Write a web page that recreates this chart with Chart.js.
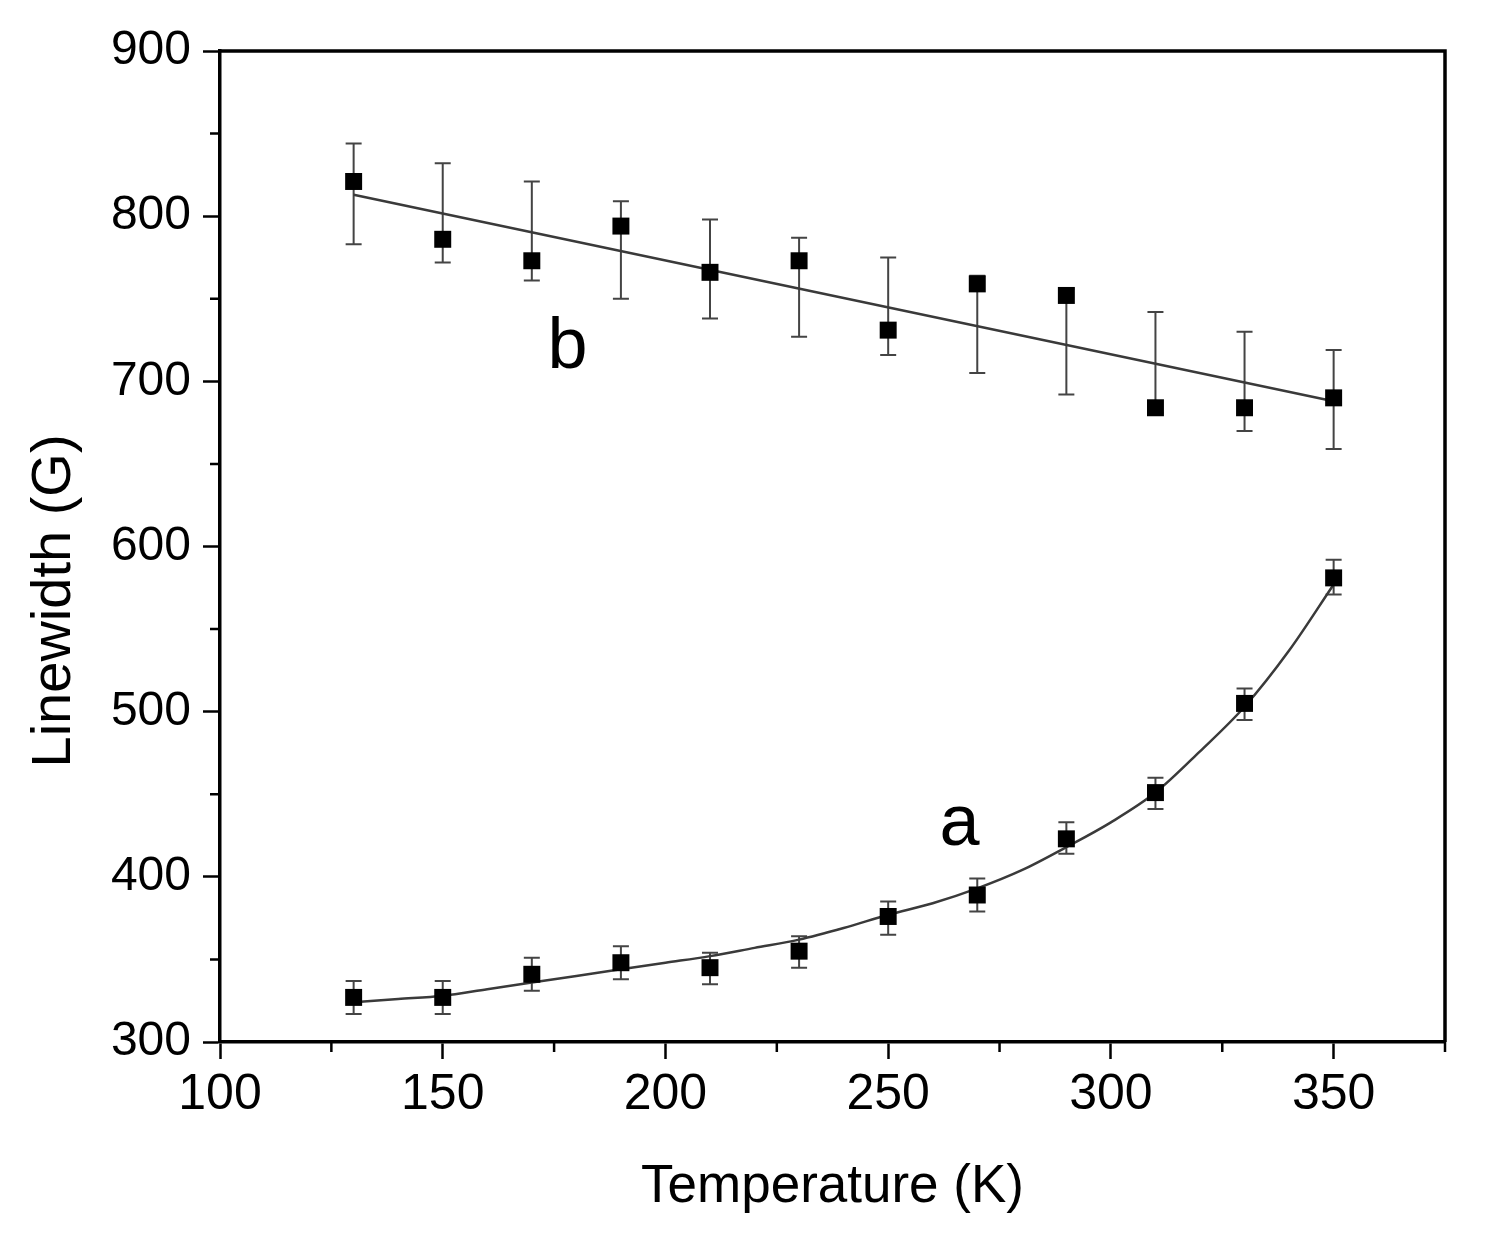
<!DOCTYPE html>
<html>
<head>
<meta charset="utf-8">
<script src="https://cdn.jsdelivr.net/npm/chart.js@4/dist/chart.umd.min.js"></script>
<style>
html,body{margin:0;padding:0;background:#fff;}
#wrap{width:1489px;height:1244px;position:relative;}
</style>
</head>
<body>
<div id="wrap"><canvas id="c" width="1489" height="1244"></canvas></div>
<script>
// ---- data ----
const temps = [130,150,170,190,210,230,250,270,290,310,330,350];

const seriesA = [327,327,341,348,345,355,376,389,423,451,505,581];
const lowA    = [317,317,331,338,335,345,365,379,414,441,495,571];
const highA   = [337,337,351,358,354,364,385,399,433,460,514,592];

const seriesB = [821,786,773,794,766,773,731,759,752,684,684,690];
const lowB    = [783,772,761,750,738,727,716,705,692,681,670,659];
const highB   = [844,832,821,809,798,787,775,764,756,742,730,719];

const fitTempsA = [130,140,150,160,170,180,190,200,210,220,230,240,250,260,270,280,290,300,310,320,330,340,350];
const fitA      = [324,326,328,332,336,340,344,348,352,357,362,369,377,384,393,404,418,433,451,476,503,537,577];

const fitTempsB = [130,350];
const fitB      = [813,688];

const curveLabels = ['a','b'];
const labelTemps  = [266,178];
const labelValues = [419,708];

const xTicksMajor = [100,150,200,250,300,350];
const yTicksMajor = [300,400,500,600,700,800,900];
const xMinor = [125,175,225,275,325,375];
const yMinor = [350,450,550,650,750,850];

const FONT = "'Liberation Sans', Arial, Helvetica, sans-serif";

const pts = (xs, ys) => xs.map((x,i)=>({x:x, y:ys[i]}));

const errorBars = {
  id:'errorBars',
  beforeDatasetsDraw(chart){
    const {ctx, scales:{x,y}} = chart;
    ctx.save();
    ctx.strokeStyle = '#444';
    ctx.lineWidth = 2;
    const cap = 8;
    const draw = (lo, hi) => {
      temps.forEach((t,i)=>{
        const px = x.getPixelForValue(t);
        const p1 = y.getPixelForValue(lo[i]);
        const p2 = y.getPixelForValue(hi[i]);
        ctx.beginPath();
        ctx.moveTo(px,p1); ctx.lineTo(px,p2);
        ctx.moveTo(px-cap,p1); ctx.lineTo(px+cap,p1);
        ctx.moveTo(px-cap,p2); ctx.lineTo(px+cap,p2);
        ctx.stroke();
      });
    };
    draw(lowA, highA);
    draw(lowB, highB);
    ctx.restore();
  }
};

const frame = {
  id:'frame',
  afterDraw(chart){
    const {ctx, chartArea:a, scales:{x,y}} = chart;
    ctx.save();
    ctx.strokeStyle = '#000';
    ctx.lineWidth = 3.5;
    ctx.beginPath();
    ctx.moveTo(a.left, a.top); ctx.lineTo(a.right, a.top); ctx.lineTo(a.right, a.bottom);
    ctx.stroke();
    // minor ticks
    ctx.lineWidth = 2.5;
    ctx.beginPath();
    xMinor.forEach(v=>{
      const px = x.getPixelForValue(v);
      ctx.moveTo(px, a.bottom); ctx.lineTo(px, a.bottom+10);
    });
    yMinor.forEach(v=>{
      const py = y.getPixelForValue(v);
      ctx.moveTo(a.left, py); ctx.lineTo(a.left-10, py);
    });
    ctx.stroke();
    // curve labels
    ctx.fillStyle = '#000';
    ctx.font = "72px " + FONT;
    ctx.textAlign = 'center';
    ctx.textBaseline = 'alphabetic';
    curveLabels.forEach((s,i)=>{
      ctx.fillText(s, x.getPixelForValue(labelTemps[i]), y.getPixelForValue(labelValues[i]));
    });
    ctx.restore();
  }
};

new Chart(document.getElementById('c'), {
  type:'scatter',
  data:{
    datasets:[
      {label:'a', data:pts(temps, seriesA), pointStyle:'rect', pointRadius:12, backgroundColor:'#000', borderColor:'#000', borderWidth:0, showLine:false, order:0},
      {label:'b', data:pts(temps, seriesB), pointStyle:'rect', pointRadius:12, backgroundColor:'#000', borderColor:'#000', borderWidth:0, showLine:false, order:0},
      {label:'fit a', data:pts(fitTempsA, fitA), showLine:true, pointRadius:0, borderColor:'#3a3a3a', borderWidth:2.5, cubicInterpolationMode:'monotone', fill:false, order:1},
      {label:'fit b', data:pts(fitTempsB, fitB), showLine:true, pointRadius:0, borderColor:'#3a3a3a', borderWidth:2.5, fill:false, order:1}
    ]
  },
  options:{
    responsive:false,
    animation:false,
    events:[],
    layout:{padding:{left:0, right:44, top:51, bottom:0}},
    plugins:{legend:{display:false}, tooltip:{enabled:false}},
    scales:{
      x:{
        type:'linear', min:100, max:375,
        afterBuildTicks(s){ s.ticks = xTicksMajor.map(v=>({value:v})); },
        afterFit(s){ s.height = 202; },
        ticks:{color:'#000', font:{family:FONT, size:50}, padding:6, maxRotation:0, autoSkip:false},
        grid:{drawOnChartArea:false, drawTicks:true, tickLength:17, tickWidth:2.5, tickColor:'#000'},
        border:{display:true, color:'#000', width:3.5},
        title:{display:true, text:'Temperature (K)', color:'#000', font:{family:FONT, size:53}, padding:{top:0, bottom:25}}
      },
      y:{
        type:'linear', min:300, max:900,
        afterBuildTicks(s){ s.ticks = yTicksMajor.map(v=>({value:v})); },
        afterFit(s){ s.width = 220; },
        ticks:{color:'#000', font:{family:FONT, size:48}, padding:12, autoSkip:false},
        grid:{drawOnChartArea:false, drawTicks:true, tickLength:17, tickWidth:2.5, tickColor:'#000'},
        border:{display:true, color:'#000', width:3.5},
        title:{display:true, text:'Linewidth (G)\u00a0\u00a0\u00a0\u00a0\u00a0\u00a0\u00a0', color:'#000', font:{family:FONT, size:56}, padding:{top:21, bottom:0}}
      }
    }
  },
  plugins:[errorBars, frame]
});
</script>
</body>
</html>
